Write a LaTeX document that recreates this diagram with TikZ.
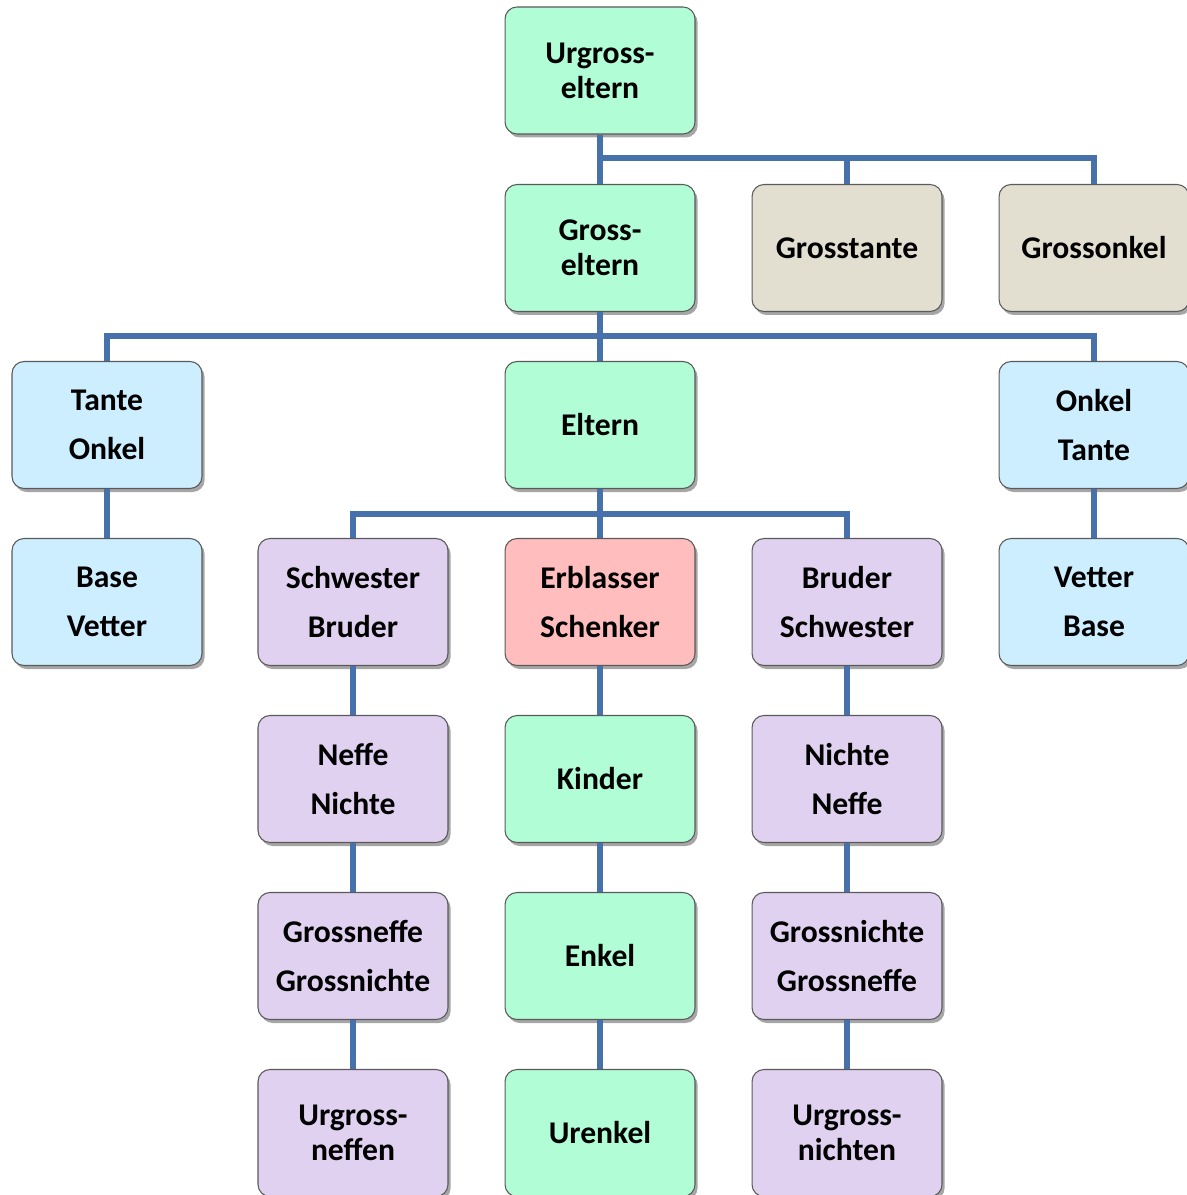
\documentclass[tikz,border=0pt]{standalone}
\usepackage{fontspec}
\setmainfont{Carlito}
\usetikzlibrary{shadows}
\definecolor{cgreen}{RGB}{176,253,214}
\definecolor{cbeige}{RGB}{227,223,208}
\definecolor{cblue}{RGB}{204,238,255}
\definecolor{cpink}{RGB}{255,189,189}
\definecolor{clav}{RGB}{225,209,240}
\definecolor{cline}{RGB}{70,113,170}
\definecolor{cborder}{RGB}{90,90,90}
\tikzset{
  box/.style={draw=cborder, line width=0.6pt, rounded corners=0.24cm,
    minimum width=3.8cm, minimum height=2.54cm, align=center,
    font=\bfseries\fontsize{18}{28}\selectfont,
    drop shadow={shadow xshift=1.5pt, shadow yshift=-2pt, opacity=0.35, fill=black}},
  hy/.style={font=\bfseries\fontsize{18}{20}\selectfont},
  green/.style={box, fill=cgreen},
  beige/.style={box, fill=cbeige},
  lblue/.style={box, fill=cblue},
  pink/.style={box, fill=cpink},
  lav/.style={box, fill=clav},
  conn/.style={draw=cline, line width=3.2pt}
}
\begin{document}
\begin{tikzpicture}[x=0.02cm, y=-0.02cm]
\useasboundingbox (0,0) rectangle (1186,1195);
\coordinate (j1) at (600,158);
\coordinate (j2) at (600,336);
\coordinate (j3) at (600,514);
% nodes
\node[green, hy] (ug) at (600,70.5) {Urgross-\\eltern};
\node[green, hy] (gp) at (600,248) {Gross-\\eltern};
\node[beige] (gt) at (847,248) {Grosstante};
\node[beige] (go) at (1094,248) {Grossonkel};
\node[lblue] (to) at (107,425) {Tante\\Onkel};
\node[green] (el) at (600,425) {Eltern};
\node[lblue] (ot) at (1094,425) {Onkel\\Tante};
\node[lblue] (bv) at (107,602) {Base\\Vetter};
\node[lav] (sb) at (353,602) {Schwester\\Bruder};
\node[pink] (er) at (600,602) {Erblasser\\Schenker};
\node[lav] (bs) at (847,602) {Bruder\\Schwester};
\node[lblue] (vb) at (1094,602) {Vetter\\Base};
\node[lav] (nn) at (353,779) {Neffe\\Nichte};
\node[green] (ki) at (600,779) {Kinder};
\node[lav] (ni) at (847,779) {Nichte\\Neffe};
\node[lav] (gn) at (353,956) {Grossneffe\\Grossnichte};
\node[green] (en) at (600,956) {Enkel};
\node[lav] (gi) at (847,956) {Grossnichte\\Grossneffe};
\node[lav, hy] (un) at (353,1133) {Urgross-\\neffen};
\node[green] (ue) at (600,1133) {Urenkel};
\node[lav, hy] (ui) at (847,1133) {Urgross-\\nichten};
% connectors
\draw[conn] (ug.south) -- (gp.north);
\draw[conn] (j1) -| (go.north);
\draw[conn] (gt.north) -- (gt.north |- j1);
\draw[conn] (gp.south) -- (el.north);
\draw[conn] (to.north) |- (j2) -| (ot.north);
\draw[conn] (el.south) -- (er.north);
\draw[conn] (sb.north) |- (j3) -| (bs.north);
\draw[conn] (to.south) -- (bv.north);
\draw[conn] (ot.south) -- (vb.north);
\draw[conn] (sb.south) -- (nn.north);
\draw[conn] (nn.south) -- (gn.north);
\draw[conn] (gn.south) -- (un.north);
\draw[conn] (er.south) -- (ki.north);
\draw[conn] (ki.south) -- (en.north);
\draw[conn] (en.south) -- (ue.north);
\draw[conn] (bs.south) -- (ni.north);
\draw[conn] (ni.south) -- (gi.north);
\draw[conn] (gi.south) -- (ui.north);
\end{tikzpicture}
\end{document}
